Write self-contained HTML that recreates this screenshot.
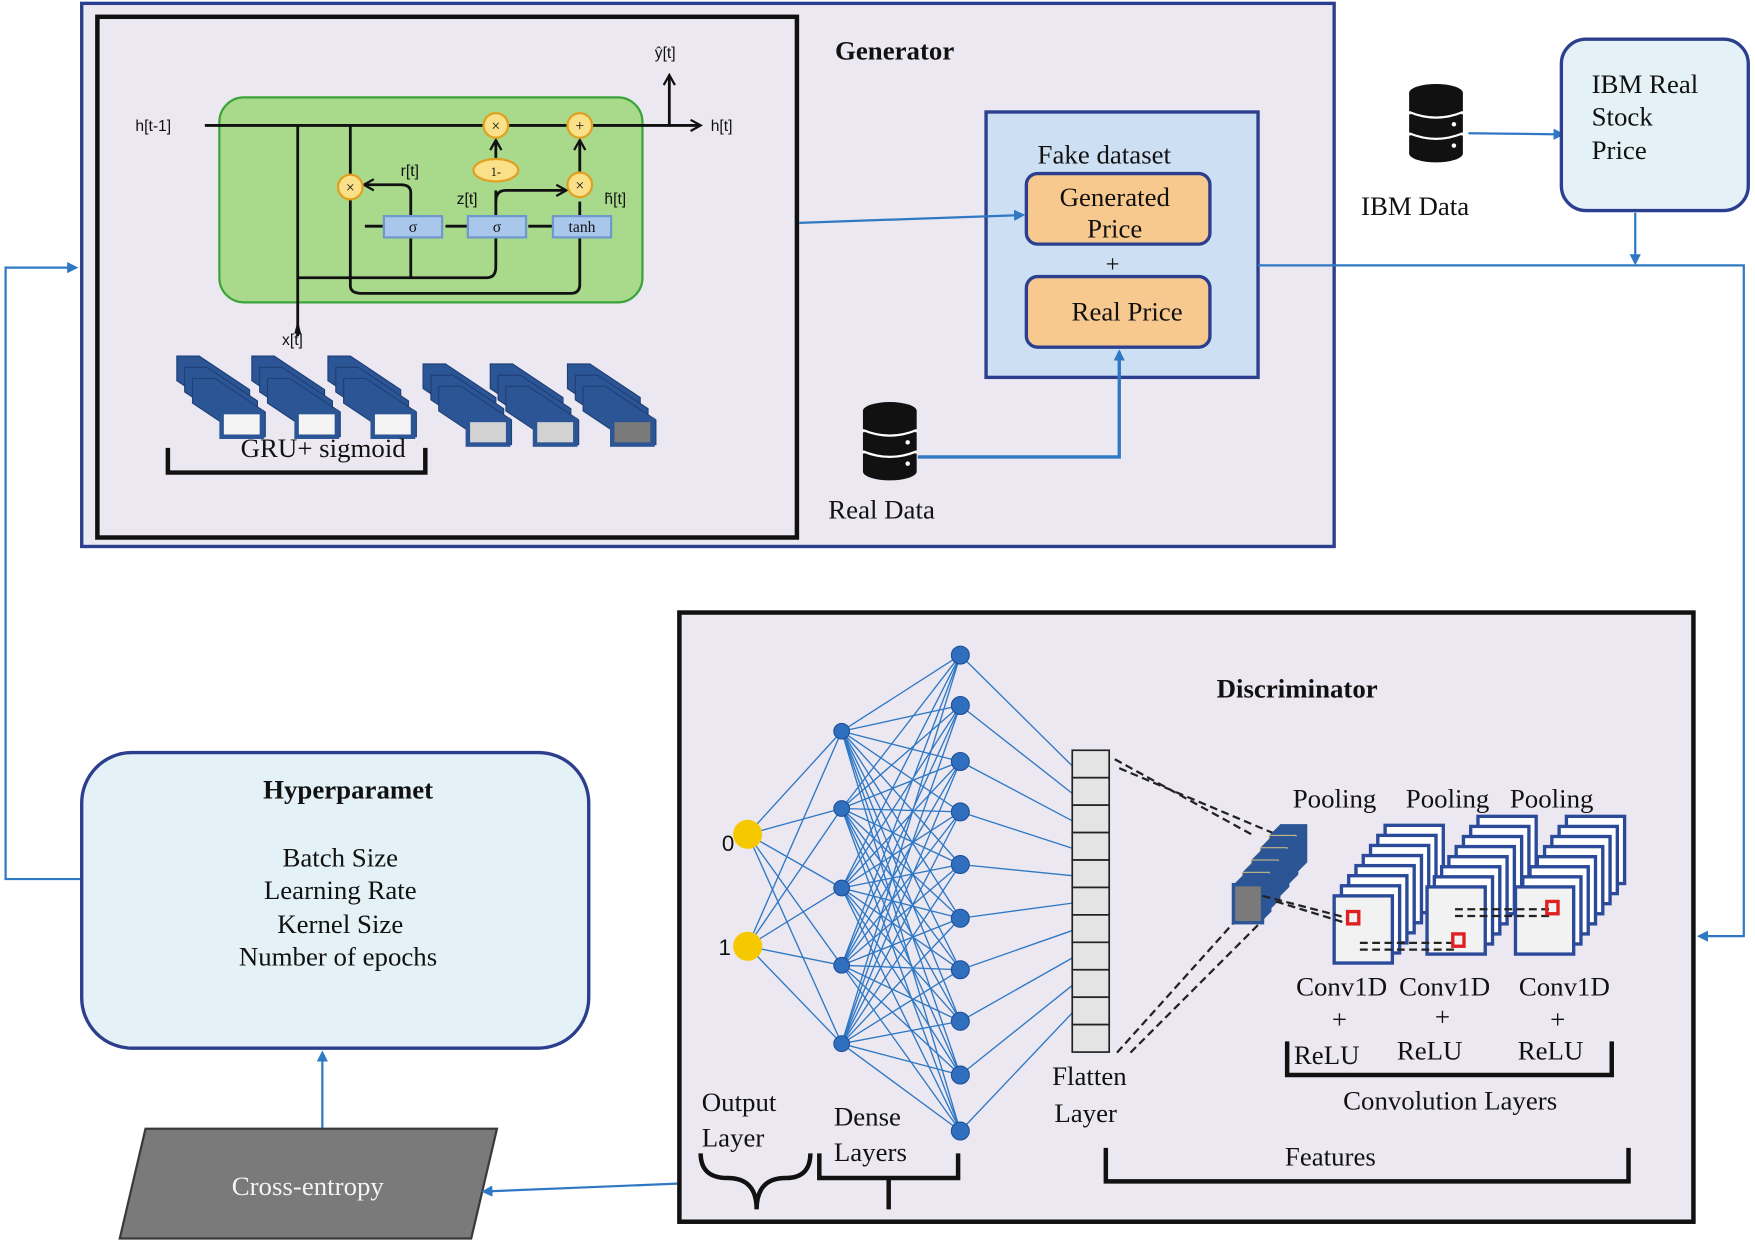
<!DOCTYPE html>
<html><head><meta charset="utf-8"><style>
html,body{margin:0;padding:0;background:#fff;width:1755px;height:1243px;overflow:hidden}
svg{display:block}
text{font-family:"Liberation Serif",serif;fill:#111}
.s{font-family:"Liberation Sans",sans-serif}
</style></head><body>
<svg id="g" width="1755" height="1243" viewBox="0 0 1568 1110" preserveAspectRatio="none">
<defs>
<marker id="ab" markerWidth="10" markerHeight="10" refX="8" refY="5" orient="auto" markerUnits="userSpaceOnUse"><path d="M0,0 L10,5 L0,10 z" fill="#2f78c4"/></marker>
<marker id="ak" markerWidth="12" markerHeight="12" refX="9" refY="6" orient="auto" markerUnits="userSpaceOnUse"><path d="M1,1 L10,6 L1,11" fill="none" stroke="#111" stroke-width="2"/></marker>
<g id="db"><ellipse cx="0" cy="0" rx="24" ry="8" fill="#111"/><rect x="-24" y="0" width="48" height="16" fill="#111"/><ellipse cx="0" cy="16" rx="24" ry="8" fill="#111"/><rect x="-24" y="19" width="48" height="16" fill="#111"/><ellipse cx="0" cy="35" rx="24" ry="8" fill="#111"/><rect x="-24" y="38" width="48" height="16" fill="#111"/><ellipse cx="0" cy="54" rx="24" ry="8" fill="#111"/><path d="M-24,17 Q0,27 24,17 M-24,36 Q0,46 24,36" stroke="#fff" stroke-width="2" fill="none"/><circle cx="16" cy="28" r="2" fill="#fff"/><circle cx="16" cy="47" r="2" fill="#fff"/></g>
</defs>
<rect x="73" y="3" width="1119" height="485" fill="#ece8f1" stroke="#2c3f8f" stroke-width="3"/>
<rect x="87" y="15" width="625" height="465" fill="#ece8f1" stroke="#111" stroke-width="4"/>
<text x="746" y="53" font-size="24" font-weight="bold">Generator</text>
<rect x="196" y="87" width="378" height="183" rx="22" fill="#a9da8c" stroke="#3aa43a" stroke-width="2"/>
<g stroke="#111" stroke-width="2.5" fill="none">
<path d="M183,112 H625" marker-end="url(#ak)"/>
<path d="M598,112 V68" marker-end="url(#ak)"/>
<path d="M266,112 V300"/>
<path d="M313,112 V255 Q313,262 323,262 H510 Q518,262 518,254 V180"/>
<path d="M266,248 H435 Q443,248 443,238 V170"/>
<path d="M367,248 V172 Q367,165 358,165 H326" marker-end="url(#ak)"/>
<path d="M443,180 Q443,170 452,170 H505" marker-end="url(#ak)"/>
<path d="M443,142 V126" marker-end="url(#ak)"/>
<path d="M518,155 V126" marker-end="url(#ak)"/>
<path d="M326,202 H342 M398,202 H418 M472,202 H494"/>
</g>
<path d="M264,298 L266,290 L268,298" stroke="#111" stroke-width="2" fill="none"/>
<text class="s" x="121" y="117" font-size="14">h[t-1]</text>
<text class="s" x="635" y="117" font-size="14">h[t]</text>
<text class="s" x="585" y="52" font-size="14">ŷ[t]</text>
<text class="s" x="252" y="308" font-size="14">x[t]</text>
<text class="s" x="358" y="157" font-size="14" fill="#2a6a2a">r[t]</text>
<text class="s" x="408" y="182" font-size="14" fill="#2a6a2a">z[t]</text>
<text class="s" x="540" y="182" font-size="14" fill="#2a6a2a">h̃[t]</text>
<g stroke="#e0a020" stroke-width="2" fill="#fbe08a">
<circle cx="443" cy="112" r="11"/><circle cx="518" cy="112" r="11"/><circle cx="313" cy="167" r="11"/><circle cx="518" cy="165" r="11"/><ellipse cx="443" cy="152" rx="20" ry="10"/>
</g>
<g class="s" font-size="14" text-anchor="middle"><text x="443" y="117">×</text><text x="518" y="117">+</text><text x="313" y="172">×</text><text x="518" y="170">×</text><text x="443" y="157" font-size="11">1-</text></g>
<g stroke="#6f98cc" stroke-width="2" fill="#a9c7ea"><rect x="343" y="193" width="52" height="19"/><rect x="418" y="193" width="52" height="19"/><rect x="494" y="193" width="52" height="19"/></g>
<g class="s" font-size="14" text-anchor="middle" fill="#1a2a55"><text x="369" y="207">σ</text><text x="444" y="207">σ</text><text x="520" y="207">tanh</text></g>
<g id="blocks"></g>
<text x="215" y="408" font-size="24">GRU+ sigmoid</text>
<path d="M150,400 V422 H380 V400" stroke="#111" stroke-width="4" fill="none"/>
<rect x="881" y="100" width="243" height="237" fill="#cde0f3" stroke="#2c3f8f" stroke-width="3"/>
<text x="927" y="146" font-size="24">Fake dataset</text>
<rect x="917" y="155" width="164" height="63" rx="10" fill="#f8c98e" stroke="#2c3f8f" stroke-width="3"/>
<text x="996" y="184" font-size="24" text-anchor="middle">Generated</text>
<text x="996" y="212" font-size="24" text-anchor="middle">Price</text>
<text x="994" y="243" font-size="22" text-anchor="middle">+</text>
<rect x="917" y="247" width="164" height="63" rx="10" fill="#f8c98e" stroke="#2c3f8f" stroke-width="3"/>
<text x="1007" y="286" font-size="24" text-anchor="middle">Real Price</text>
<path d="M714,199 L914,192" stroke="#2f78c4" stroke-width="2" fill="none" marker-end="url(#ab)"/>
<use href="#db" x="795" y="367"/>
<path d="M820,408 H1000 V314" stroke="#2f78c4" stroke-width="3" fill="none" marker-end="url(#ab)"/>
<text x="740" y="463" font-size="24">Real Data</text>
<use href="#db" x="1283" y="83"/>
<text x="1216" y="192" font-size="24">IBM Data</text>
<path d="M1312,119 L1396,120" stroke="#2f78c4" stroke-width="2" fill="none" marker-end="url(#ab)"/>
<rect x="1395" y="35" width="167" height="153" rx="22" fill="#e4f2f8" stroke="#2c3f8f" stroke-width="3"/>
<text x="1422" y="83" font-size="24">IBM Real</text><text x="1422" y="112" font-size="24">Stock</text><text x="1422" y="142" font-size="24">Price</text>
<path d="M1124,237 H1558 V836 H1518" stroke="#2f78c4" stroke-width="2" fill="none" marker-end="url(#ab)"/>
<path d="M1461,190 V235" stroke="#2f78c4" stroke-width="2" fill="none" marker-end="url(#ab)"/>
<path d="M74,785 H5 V239 H68" stroke="#2f78c4" stroke-width="2" fill="none" marker-end="url(#ab)"/>
<rect x="73" y="672" width="453" height="264" rx="45" fill="#e4f2f8" stroke="#2c3f8f" stroke-width="3"/>
<text x="311" y="713" font-size="24" font-weight="bold" text-anchor="middle">Hyperparamet</text>
<g font-size="24" text-anchor="middle"><text x="304" y="774">Batch Size</text><text x="304" y="803">Learning Rate</text><text x="304" y="833">Kernel Size</text><text x="302" y="862">Number of epochs</text></g>
<path d="M288,1008 V940" stroke="#2f78c4" stroke-width="2" fill="none" marker-end="url(#ab)"/>
<polygon points="130,1008 444,1008 421,1106 107,1106" fill="#7a7a7a" stroke="#3a3a3a" stroke-width="2"/>
<text x="275" y="1067" font-size="24" text-anchor="middle" style="fill:#f4f4f4">Cross-entropy</text>
<path d="M605,1057 L432,1064" stroke="#2f78c4" stroke-width="2" fill="none" marker-end="url(#ab)"/>
<rect x="607" y="547" width="906" height="544" fill="#ece8f1" stroke="#111" stroke-width="4"/>
<text x="1087" y="623" font-size="24" font-weight="bold">Discriminator</text>
<g id="net"></g>
<g id="conv"></g>
<g font-size="24">
<text x="1155" y="721">Pooling</text><text x="1256" y="721">Pooling</text><text x="1349" y="721">Pooling</text>
<text x="1158" y="889">Conv1D</text><text x="1250" y="889">Conv1D</text><text x="1357" y="889">Conv1D</text>
<text x="1190" y="918">+</text><text x="1282" y="916">+</text><text x="1385" y="918">+</text>
<text x="1156" y="950">ReLU</text><text x="1248" y="946">ReLU</text><text x="1356" y="946">ReLU</text>
<text x="1200" y="991">Convolution Layers</text>
<text x="1148" y="1041">Features</text>
<text x="940" y="969">Flatten</text><text x="942" y="1002">Layer</text>
<text x="627" y="992">Output</text><text x="627" y="1024">Layer</text>
<text x="745" y="1005">Dense</text><text x="745" y="1037">Layers</text>
<text x="645" y="760" class="s" font-size="20">0</text><text x="642" y="853" class="s" font-size="20">1</text>
</g>
<path d="M1150,930 V960 H1440 V930" stroke="#111" stroke-width="4" fill="none"/>
<path d="M988,1025 V1055 H1455 V1025" stroke="#111" stroke-width="4" fill="none"/>
<path d="M626,1030 Q626,1052 650,1052 Q676,1052 676,1080 Q676,1052 702,1052 Q724,1052 724,1030" stroke="#111" stroke-width="4" fill="none"/>
<path d="M732,1030 V1052 H856 V1030 M794,1052 V1080" stroke="#111" stroke-width="4" fill="none"/>
</svg>
<script>
var NS="http://www.w3.org/2000/svg";
function el(p,t,a){var e=document.createElementNS(NS,t);for(var k in a)e.setAttribute(k,a[k]);p.appendChild(e);return e;}
var b=document.getElementById("blocks");
var st=[[158,318,"#f4f4f4"],[225,318,"#f4f4f4"],[293,318,"#f4f4f4"],[378,325,"#d2d2d2"],[438,325,"#d2d2d2"],[507,325,"#7a7a7a"]];
st.forEach(function(s){for(var i=0;i<3;i++){var x=s[0]+i*7,y=s[1]+i*10;el(b,"path",{d:"M"+x+","+y+" h20 l45,30 v22 h-20 l-45,-30z",fill:"#2b5594",stroke:"#1e3f77","stroke-width":1});}
var fx=s[0]+38,fy=s[1]+48;el(b,"rect",{x:fx,y:fy,width:40,height:26,fill:"#2b5594"});el(b,"rect",{x:fx+4,y:fy+4,width:32,height:18,fill:s[2]});});
var n=document.getElementById("net");
var L0=[[668,745],[668,845]],L1=[752,653,722,793,862,932],L2=[585,630,680,725,772,820,866,912,960,1010];
var l1=L1.slice(1).map(function(y){return[752,y]}),l2=L2.map(function(y){return[858,y]});
var F=[];for(var i=0;i<11;i++)F.push([958,684+i*24.5]);
function conn(A,B){A.forEach(function(a){B.forEach(function(c){el(n,"line",{x1:a[0],y1:a[1],x2:c[0],y2:c[1],stroke:"#2f78c4","stroke-width":1.2});});});}
conn(L0,l1);conn(l1,l2);
l2.forEach(function(p,i){el(n,"line",{x1:p[0],y1:p[1],x2:958,y2:F[Math.min(10,i)][1],stroke:"#2f78c4","stroke-width":1.2});});
L0.forEach(function(p){el(n,"circle",{cx:p[0],cy:p[1],r:13,fill:"#f6c800"});});
l1.forEach(function(p){el(n,"circle",{cx:p[0],cy:p[1],r:7,fill:"#2f6fbd",stroke:"#1f4f99"});});
l2.forEach(function(p){el(n,"circle",{cx:p[0],cy:p[1],r:8,fill:"#2f6fbd",stroke:"#1f4f99"});});
for(var i=0;i<11;i++)el(n,"rect",{x:958,y:670+i*24.5,width:33,height:24.5,fill:"#e4e4e4",stroke:"#222","stroke-width":1.5});
var c=document.getElementById("conv");
var d={stroke:"#222","stroke-width":2,"stroke-dasharray":"7,4",fill:"none"};
el(c,"path",Object.assign({d:"M996,678 L1118,745 M1000,686 L1140,745 M998,940 L1104,822 M1010,940 L1128,822"},d));
for(var i=4;i>=0;i--){var x=1102+i*8,y=790-i*11;el(c,"path",{d:"M"+x+","+y+" l10,-10 h24 v34 l-10,10z",fill:"#2b5594"});el(c,"rect",{x:x,y:y,width:24,height:34,fill:"#2b5594",stroke:"#c9b98a","stroke-width":1});}
el(c,"rect",{x:1102,y:790,width:26,height:34,fill:"#7a7a7a",stroke:"#2b5594","stroke-width":3});
[[1192,800],[1275,792],[1354,792]].forEach(function(s){for(var i=7;i>=0;i--){var x=s[0]+i*6.5,y=s[1]-i*9;el(c,"rect",{x:x,y:y,width:52,height:60,fill:i?"#fff":"#f2f2f2",stroke:"#2b4a9a","stroke-width":3});}});
el(c,"path",Object.assign({d:"M1128,800 L1205,820 M1140,805 L1205,825 M1215,842 L1300,842 M1215,848 L1300,848 M1300,812 L1385,812 M1300,818 L1385,818"},d));
[[1204,814],[1298,834],[1382,805]].forEach(function(p){el(c,"rect",{x:p[0],y:p[1],width:10,height:11,fill:"none",stroke:"#e02020","stroke-width":3});});
</script>
</body></html>
